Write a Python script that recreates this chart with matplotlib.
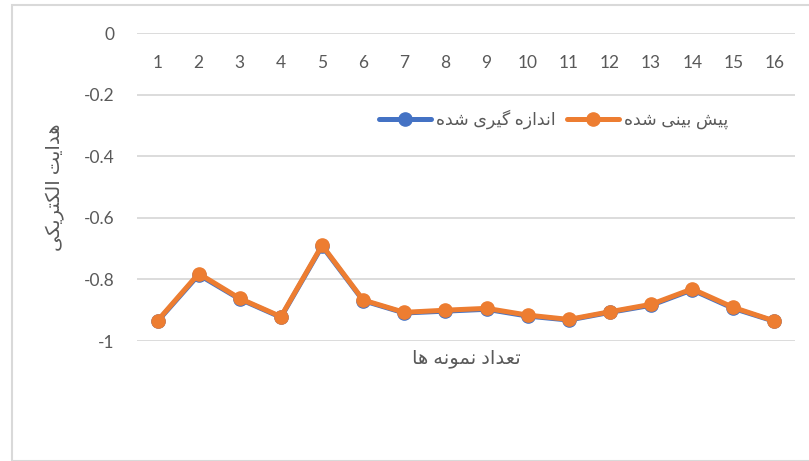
import matplotlib
matplotlib.use("Agg")
import matplotlib.pyplot as plt
from matplotlib.patches import Rectangle

# ---- data ----
samples = list(range(1, 17))
measured = [-0.936, -0.785, -0.864, -0.923, -0.692, -0.869, -0.909, -0.903,
            -0.897, -0.919, -0.932, -0.907, -0.884, -0.834, -0.894, -0.936]
predicted = [-0.934, -0.781, -0.862, -0.921, -0.689, -0.867, -0.907, -0.900,
             -0.894, -0.916, -0.930, -0.905, -0.881, -0.831, -0.891, -0.935]
yticks = [0, -0.2, -0.4, -0.6, -0.8, -1]
ytick_labels = ["0", "-0.2", "-0.4", "-0.6", "-0.8", "-1"]
label_measured = "اندازه گیری شده"
label_predicted = "پیش بینی شده"
xlabel = "تعداد نمونه ها"
ylabel = "هدایت الکتریکی"

# ---- minimal Arabic/Persian shaping (presentation forms, visual order) ----
FORMS = {
    'ا': ('\uFE8D', '\uFE8E', None, None),
    'د': ('\uFEA9', '\uFEAA', None, None),
    'ر': ('\uFEAD', '\uFEAE', None, None),
    'ز': ('\uFEAF', '\uFEB0', None, None),
    'و': ('\uFEED', '\uFEEE', None, None),
    'ب': ('\uFE8F', '\uFE90', '\uFE91', '\uFE92'),
    'پ': ('\uFB56', '\uFB57', '\uFB58', '\uFB59'),
    'ت': ('\uFE95', '\uFE96', '\uFE97', '\uFE98'),
    'ش': ('\uFEB5', '\uFEB6', '\uFEB7', '\uFEB8'),
    'ع': ('\uFEC9', '\uFECA', '\uFECB', '\uFECC'),
    'ک': ('\uFB8E', '\uFB8F', '\uFB90', '\uFB91'),
    'گ': ('\uFB92', '\uFB93', '\uFB94', '\uFB95'),
    'ل': ('\uFEDD', '\uFEDE', '\uFEDF', '\uFEE0'),
    'م': ('\uFEE1', '\uFEE2', '\uFEE3', '\uFEE4'),
    'ن': ('\uFEE5', '\uFEE6', '\uFEE7', '\uFEE8'),
    'ه': ('\uFEE9', '\uFEEA', '\uFEEB', '\uFEEC'),
    'ی': ('\uFBFC', '\uFBFD', '\uFBFE', '\uFBFF'),
}


def shape(text):
    out = []
    n = len(text)
    for i, c in enumerate(text):
        if c not in FORMS:
            out.append(c)
            continue
        prev_j = i > 0 and text[i - 1] in FORMS and FORMS[text[i - 1]][2] is not None
        next_j = (i + 1 < n and text[i + 1] in FORMS and FORMS[c][2] is not None)
        iso, fin, ini, med = FORMS[c]
        if prev_j and next_j:
            out.append(med)
        elif prev_j:
            out.append(fin)
        elif next_j:
            out.append(ini)
        else:
            out.append(iso)
    return ''.join(out)[::-1]


plt.rcParams['font.family'] = ['Lato', 'DejaVu Sans']
GRAY = '#595959'
W, H = 809, 461
fig = plt.figure(figsize=(W / 100, H / 100), dpi=100)

# outer chart frame
fig.patches.append(Rectangle((12 / W, 0), 1.0, 1 - 5 / H, transform=fig.transFigure,
                             fill=False, edgecolor='#d9d9d9', lw=1.5, clip_on=False))

ax = fig.add_axes([137 / W, 1 - 341 / H, 658 / W, 308 / H])
ax.plot(samples, measured, color='#4472C4', lw=3.6, marker='o', ms=9.5,
        label=shape(label_measured), solid_capstyle='round', zorder=3)
ax.plot(samples, predicted, color='#ED7D31', lw=3.6, marker='o', ms=9.5,
        label=shape(label_predicted), solid_capstyle='round', zorder=4)

ax.set_xlim(0.5, 16.5)
ax.set_ylim(-1, 0)
ax.set_yticks(yticks)
ax.set_yticklabels(ytick_labels)
ax.set_xticks(samples)
ax.set_xticklabels([str(s) for s in samples])
for s in ax.spines.values():
    s.set_visible(False)
ax.grid(axis='y', color='#d9d9d9', lw=1.3)
ax.set_axisbelow(True)
ax.tick_params(axis='y', length=0, pad=16, labelsize=12.5, labelcolor=GRAY)
ax.tick_params(axis='x', length=0, top=False, bottom=False, labeltop=True,
               labelbottom=False, pad=-27, labelsize=12.5, labelcolor=GRAY)

ax.set_xlabel(shape(xlabel), fontsize=14, color=GRAY)
ax.set_ylabel(shape(ylabel), fontsize=14, color=GRAY)
ax.yaxis.set_label_coords(-0.109, 0.5)
ax.xaxis.set_label_coords(0.5, -0.028)

leg = ax.legend(loc='center', bbox_to_anchor=(0.633, 0.72), ncol=2, frameon=False,
                fontsize=12.5, handlelength=3.0, columnspacing=0.7, handletextpad=0.25)
for t in leg.get_texts():
    t.set_color(GRAY)

fig.savefig('out.png', dpi=100)
